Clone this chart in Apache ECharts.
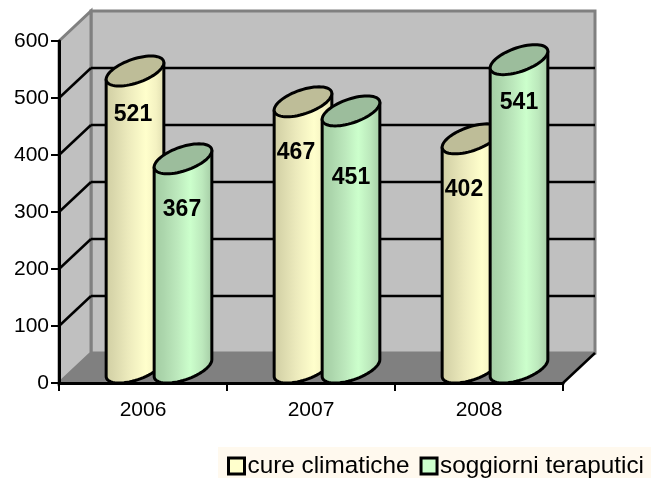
<!DOCTYPE html>
<html><head><meta charset="utf-8">
<style>html,body{margin:0;padding:0;background:#fff}#c{width:651px;height:478px}</style>
<script src="https://cdn.jsdelivr.net/npm/echarts@6/dist/echarts.min.js"></script>
</head><body><div id="c"></div>
<script>
const years = ['2006', '2007', '2008'];
const cureClimatiche = [521, 467, 402];
const soggiorniTerapeutici = [367, 451, 541];
const valueTicks = [100, 200, 300, 400, 500, 600];
const seriesNames = ['cure climatiche', 'soggiorni teraputici'];

// layout and style
const DX = 32, DY = 30, RY = 15;
const LABEL_NUDGE = [
  [[-2, 29], [-7, 36], [-7, 36]],
  [[-1, 36], [0, 52], [0, 28]]
];
const LOOKS = [
  { top: '#BEBD98', legend: '#FFFFCC',
    stops: [[0, '#CFCDA2'], [0.18, '#DCDAAE'], [0.4, '#EDEBBD'], [0.68, '#FFFFCC'], [0.85, '#F4F2C2'], [1, '#DEDCAF']] },
  { top: '#9CBD9C', legend: '#CCFFCC',
    stops: [[0, '#A2CCA2'], [0.18, '#ACD6AC'], [0.4, '#BCE8BC'], [0.62, '#CCFFCC'], [0.82, '#BCE8BC'], [1, '#A2C8A2']] }
];

const chart = echarts.init(document.getElementById('c'), null, { renderer: 'canvas' });

function walls(params, api) {
  const o = api.coord([0, 0]);
  const band = api.size([1, 0])[0];
  const x0 = o[0] - band / 2, y0 = o[1];
  const x1 = x0 + band * years.length;
  const yTop = api.coord([0, 600])[1];
  const kids = [];
  const poly = (pts, fill, stroke, lw) => ({
    type: 'polygon', shape: { points: pts },
    style: { fill: fill, stroke: stroke, lineWidth: lw, lineJoin: 'miter' }
  });
  const line = (a, b, stroke, lw) => ({
    type: 'line', shape: { x1: a[0], y1: a[1], x2: b[0], y2: b[1] },
    style: { stroke: stroke, lineWidth: lw }
  });
  kids.push(poly([[x0 + DX, yTop - DY], [x1 + DX, yTop - DY], [x1 + DX, y0 - DY], [x0 + DX, y0 - DY]], '#C0C0C0', '#808080', 3));
  kids.push(poly([[x0, yTop], [x0 + DX, yTop - DY], [x0 + DX, y0 - DY], [x0, y0]], '#C0C0C0', '#808080', 3));
  kids.push(poly([[x0, y0], [x1, y0], [x1 + DX, y0 - DY], [x0 + DX, y0 - DY]], '#808080', '#808080', 1));
  valueTicks.slice(0, -1).forEach(v => {
    const y = api.coord([0, v])[1];
    kids.push(line([x0, y], [x0 + DX, y - DY], '#000', 2.5));
    kids.push(line([x0 + DX, y - DY], [x1 + DX, y - DY], '#000', 2.5));
  });
  kids.push(line([x1, y0], [x1 + DX, y0 - DY], '#000', 2.5));
  return { type: 'group', children: kids };
}

function cylinder(serIdx) {
  return function (params, api) {
    const idx = api.value(0), val = api.value(1);
    const band = api.size([1, 0])[0];
    const w = band / 3.5;
    const c = api.coord([idx, 0]);
    const cx = c[0] + (serIdx === 0 ? -w / 2 : w / 2) + DX / 2;
    const yBase = c[1] - DY / 2;
    const yTop = api.coord([idx, val])[1] - DY / 2;
    const pt = (cy, t) => [cx + w / 2 * Math.cos(t) + DX / 2 * Math.sin(t), cy - RY * Math.sin(t)];
    const t0 = Math.atan2(DX, w);
    const n = 64;
    const ell = [];
    for (let i = 0; i < n; i++) ell.push(pt(yTop, 2 * Math.PI * i / n));
    const body = [pt(yTop, t0 + Math.PI)];
    for (let i = 0; i <= n / 2; i++) body.push(pt(yBase, t0 + Math.PI + Math.PI * i / (n / 2)));
    body.push(pt(yTop, t0));
    const look = LOOKS[serIdx];
    const nudge = LABEL_NUDGE[serIdx][idx];
    return {
      type: 'group',
      children: [
        { type: 'polygon', shape: { points: body },
          style: {
            fill: new echarts.graphic.LinearGradient(0, 0, 1, 0, look.stops.map(s => ({ offset: s[0], color: s[1] }))),
            stroke: '#000', lineWidth: 3, lineJoin: 'round'
          } },
        { type: 'polygon', shape: { points: ell },
          style: { fill: look.top, stroke: '#000', lineWidth: 3 } },
        { type: 'text', x: cx + nudge[0], y: api.coord([idx, val])[1] + nudge[1],
          style: { text: String(val), fill: '#000', align: 'center', verticalAlign: 'middle',
            font: 'bold 23px "Liberation Sans", Arial, sans-serif' } }
      ]
    };
  };
}

const rows = arr => arr.map((v, i) => [i, v]);

chart.setOption({
  animation: false,
  backgroundColor: '#fff',
  graphic: [{ type: 'rect', left: 218, top: 447, shape: { width: 433, height: 31 }, style: { fill: '#FFF9EE' }, z: 0 }],
  grid: { left: 59, right: 88, top: 41, bottom: 95 },
  xAxis: {
    type: 'category', data: years, z: 5,
    boundaryGap: true,
    axisLine: { show: true, lineStyle: { color: '#000', width: 3 } },
    axisTick: { show: true, alignWithLabel: false, length: 8, lineStyle: { color: '#000', width: 2 } },
    axisLabel: { color: '#000', fontFamily: 'Liberation Sans', fontSize: 21, margin: 17 },
    splitLine: { show: false }
  },
  yAxis: {
    type: 'value', min: 0, max: 600, interval: 100, z: 5,
    axisLine: { show: true, lineStyle: { color: '#000', width: 3 } },
    axisTick: { show: true, length: 8, lineStyle: { color: '#000', width: 2 } },
    axisLabel: { color: '#000', fontFamily: 'Liberation Sans', fontSize: 21, margin: 10 },
    splitLine: { show: false }
  },
  legend: {
    data: seriesNames, left: 227, top: 454, padding: 0, itemGap: 10,
    itemWidth: 16, itemHeight: 16, icon: 'rect',
    itemStyle: { borderColor: '#000', borderWidth: 3 },
    textStyle: { color: '#000', fontFamily: 'Liberation Sans', fontSize: 24.3, padding: [0, 0, 0, -2] }
  },
  series: [
    { type: 'custom', name: 'walls', z: 1, silent: true, clip: false, data: [[0, 0]], renderItem: walls },
    { type: 'custom', name: seriesNames[0], z: 2, clip: false, data: rows(cureClimatiche), renderItem: cylinder(0),
      encode: { x: 0, y: 1 }, itemStyle: { color: LOOKS[0].legend } },
    { type: 'custom', name: seriesNames[1], z: 3, clip: false, data: rows(soggiorniTerapeutici), renderItem: cylinder(1),
      encode: { x: 0, y: 1 }, itemStyle: { color: LOOKS[1].legend } }
  ]
});
</script></body></html>
